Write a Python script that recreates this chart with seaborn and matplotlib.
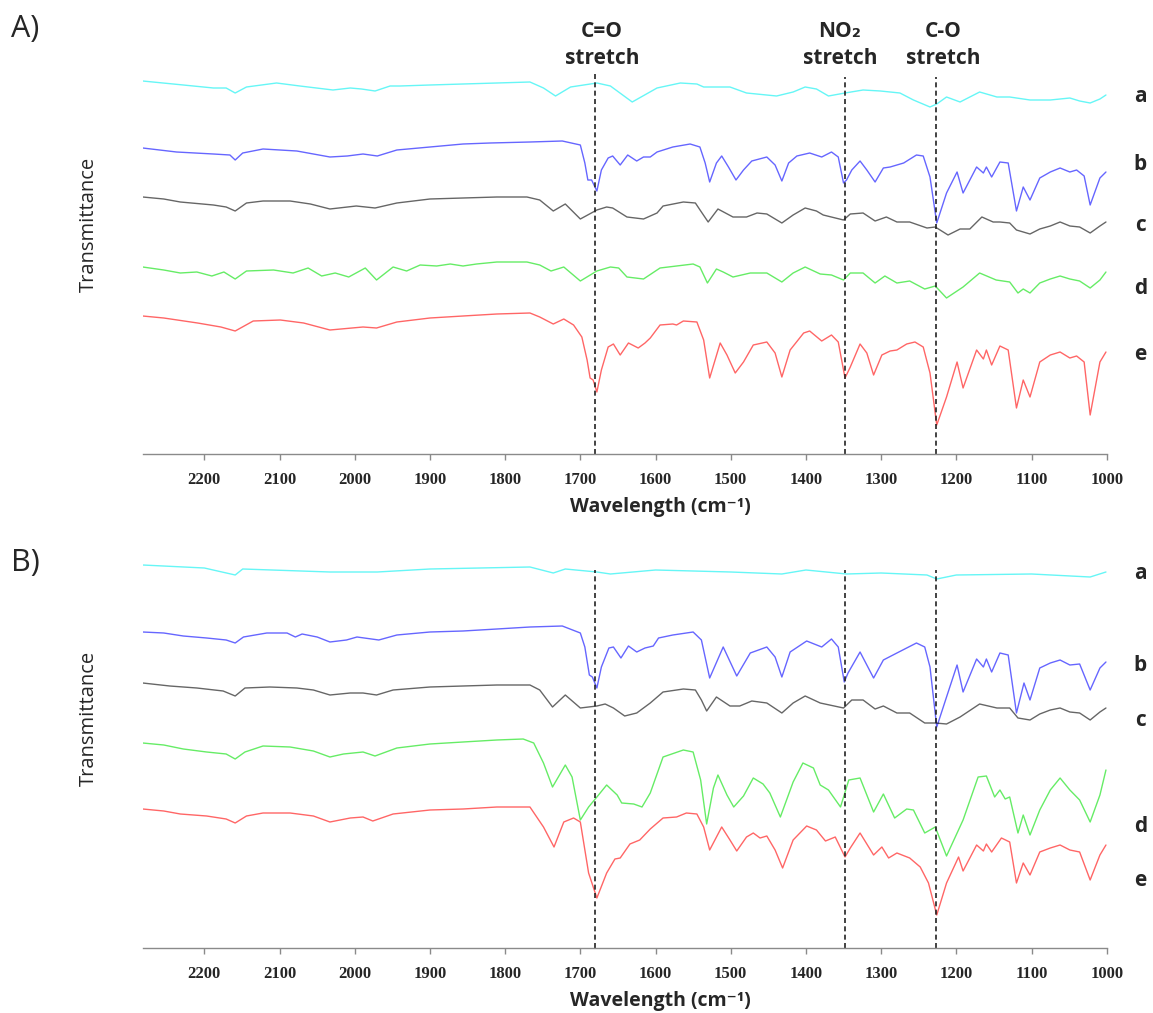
import numpy as np
import pandas as pd
import matplotlib
matplotlib.use("Agg")
import matplotlib.pyplot as plt
import seaborn as sns

# ---------------------------------------------------------------- data
# Wavenumbers (cm-1) and offset transmittance (arbitrary units) for each trace.

# Panel A
A_WN_a = [2282, 2228, 2188, 2171, 2159, 2144, 2104, 2073, 2029, 2006, 1991, 1973, 1953, 1940, 1900, 1856,
          1811, 1767, 1749, 1733, 1713, 1678, 1660, 1631, 1598, 1567, 1545, 1536, 1501, 1479, 1439, 1417,
          1401, 1386, 1370, 1348, 1324, 1301, 1275, 1257, 1235, 1226, 1213, 1195, 1169, 1146, 1129, 1102,
          1075, 1049, 1036, 1022, 1009, 1001]
A_T_a = [373, 369, 366, 366, 361, 367, 371, 368, 364, 366, 365, 363, 368, 368, 369, 370,
         371, 372, 366, 358, 367, 371, 368, 352, 366, 371, 370, 367, 367, 361, 358, 362,
         367, 365, 358, 361, 364, 363, 361, 354, 347, 350, 357, 352, 362, 357, 357, 354,
         354, 356, 353, 351, 355, 359]

A_WN_b = [2282, 2237, 2188, 2166, 2159, 2149, 2122, 2077, 2033, 2010, 1989, 1970, 1944, 1900, 1856, 1820,
          1767, 1724, 1700, 1694, 1690, 1685, 1678, 1672, 1663, 1657, 1647, 1637, 1625, 1616, 1607, 1598,
          1577, 1554, 1541, 1534, 1528, 1519, 1512, 1503, 1493, 1483, 1472, 1452, 1441, 1432, 1423, 1412,
          1395, 1379, 1366, 1357, 1350, 1346, 1339, 1328, 1319, 1308, 1297, 1288, 1270, 1253, 1244, 1235,
          1226, 1213, 1199, 1191, 1173, 1164, 1160, 1153, 1142, 1131, 1120, 1111, 1102, 1089, 1075, 1062,
          1049, 1040, 1030, 1022, 1009, 1001]
A_T_b = [306, 302, 300, 299, 294, 301, 305, 303, 297, 298, 300, 298, 304, 307, 310, 311,
         312, 313, 309, 291, 274, 274, 263, 284, 296, 298, 289, 299, 293, 297, 297, 302,
         307, 310, 307, 291, 272, 291, 298, 287, 274, 284, 293, 297, 289, 273, 291, 298,
         301, 297, 302, 297, 271, 274, 284, 293, 284, 272, 286, 287, 291, 299, 298, 277,
         231, 261, 282, 261, 287, 281, 287, 277, 292, 291, 243, 267, 254, 276, 282, 286,
         282, 284, 278, 249, 276, 282]

A_WN_c = [2282, 2254, 2232, 2188, 2171, 2159, 2144, 2122, 2086, 2059, 2033, 1998, 1973, 1944, 1900, 1856,
          1811, 1771, 1754, 1736, 1720, 1700, 1678, 1665, 1657, 1638, 1616, 1598, 1590, 1563, 1547, 1539,
          1530, 1517, 1497, 1479, 1465, 1452, 1432, 1417, 1401, 1386, 1377, 1350, 1341, 1324, 1308, 1293,
          1279, 1262, 1239, 1228, 1211, 1195, 1182, 1166, 1151, 1142, 1129, 1120, 1102, 1089, 1075, 1062,
          1049, 1036, 1022, 1009, 1001]
A_T_c = [257, 255, 252, 249, 247, 243, 251, 253, 253, 250, 245, 248, 246, 251, 255, 256,
         257, 257, 254, 243, 250, 235, 244, 247, 246, 237, 235, 241, 248, 252, 251, 242,
         232, 245, 237, 237, 241, 240, 231, 239, 246, 243, 239, 234, 240, 241, 233, 237,
         232, 232, 226, 227, 219, 225, 225, 237, 232, 232, 231, 224, 220, 225, 228, 232,
         228, 227, 221, 228, 232]

A_WN_d = [2282, 2254, 2232, 2210, 2190, 2174, 2159, 2144, 2108, 2082, 2062, 2044, 2026, 2008, 1986, 1971,
          1949, 1931, 1913, 1891, 1873, 1856, 1838, 1811, 1771, 1754, 1739, 1722, 1700, 1678, 1660, 1649,
          1638, 1616, 1594, 1550, 1541, 1531, 1519, 1510, 1497, 1474, 1452, 1432, 1417, 1401, 1381, 1366,
          1350, 1341, 1324, 1308, 1295, 1279, 1262, 1242, 1228, 1213, 1191, 1169, 1147, 1129, 1118, 1111,
          1102, 1089, 1075, 1062, 1049, 1036, 1022, 1009, 1001]
A_T_d = [187, 184, 181, 182, 178, 182, 175, 183, 184, 181, 186, 178, 181, 177, 186, 174,
         187, 183, 189, 188, 190, 188, 190, 192, 192, 189, 183, 187, 173, 183, 187, 186,
         177, 175, 186, 190, 187, 171, 185, 182, 177, 181, 181, 172, 181, 187, 180, 179,
         174, 181, 181, 171, 178, 171, 173, 165, 168, 156, 167, 181, 174, 172, 161, 165,
         161, 171, 175, 178, 175, 173, 166, 174, 182]

A_WN_e = [2282, 2254, 2209, 2178, 2159, 2135, 2099, 2068, 2033, 1989, 1971, 1944, 1900, 1856, 1811, 1767,
          1754, 1736, 1722, 1709, 1698, 1691, 1687, 1683, 1678, 1672, 1663, 1656, 1647, 1636, 1623, 1614,
          1607, 1594, 1577, 1572, 1563, 1545, 1536, 1528, 1514, 1505, 1494, 1483, 1470, 1452, 1441, 1432,
          1421, 1403, 1395, 1379, 1366, 1357, 1348, 1341, 1328, 1319, 1310, 1299, 1288, 1279, 1266, 1255,
          1244, 1235, 1226, 1213, 1199, 1191, 1173, 1164, 1160, 1153, 1142, 1131, 1120, 1111, 1102, 1089,
          1075, 1062, 1049, 1040, 1030, 1022, 1009, 1001]
A_T_e = [138, 136, 131, 127, 123, 133, 134, 131, 124, 127, 126, 132, 136, 138, 140, 141,
         137, 130, 135, 129, 117, 94, 76, 74, 62, 84, 107, 110, 99, 111, 106, 111,
         116, 129, 130, 129, 133, 132, 114, 76, 111, 99, 81, 92, 109, 112, 101, 77,
         104, 121, 123, 113, 119, 112, 76, 87, 110, 101, 79, 99, 103, 104, 110, 112,
         107, 81, 29, 57, 92, 66, 104, 95, 104, 89, 108, 104, 46, 74, 57, 92,
         99, 102, 96, 98, 92, 39, 92, 102]

# Panel B
B_WN_a = [2282, 2200, 2159, 2149, 2033, 1970, 1900, 1767, 1736, 1720, 1678, 1660, 1600, 1500, 1432, 1400,
          1346, 1300, 1239, 1226, 1200, 1100, 1022, 1001]
B_T_a = [383, 380, 373, 379, 376, 376, 379, 381, 375, 379, 376, 374, 378, 376, 374, 378,
         374, 375, 373, 369, 373, 374, 371, 376]

B_WN_b = [2282, 2254, 2228, 2197, 2171, 2159, 2148, 2117, 2090, 2079, 2070, 2050, 2033, 2011, 1997, 1968,
          1944, 1900, 1856, 1811, 1767, 1724, 1700, 1694, 1688, 1684, 1678, 1672, 1662, 1656, 1646, 1636,
          1625, 1614, 1603, 1596, 1577, 1550, 1539, 1528, 1510, 1492, 1474, 1452, 1441, 1432, 1421, 1399,
          1379, 1366, 1357, 1349, 1344, 1328, 1310, 1297, 1279, 1253, 1242, 1235, 1226, 1213, 1199, 1191,
          1173, 1164, 1160, 1153, 1142, 1131, 1120, 1110, 1102, 1089, 1075, 1062, 1049, 1036, 1022, 1009,
          1001]
B_T_b = [316, 315, 312, 310, 308, 305, 311, 315, 315, 311, 314, 311, 306, 308, 311, 308,
         313, 316, 317, 319, 321, 322, 315, 301, 273, 271, 260, 281, 300, 301, 290, 302,
         296, 300, 302, 310, 313, 316, 308, 270, 301, 272, 295, 301, 291, 271, 296, 307,
         301, 309, 301, 266, 275, 296, 270, 288, 295, 305, 301, 281, 221, 251, 283, 256,
         289, 281, 289, 276, 295, 293, 235, 265, 248, 280, 285, 288, 283, 284, 258, 280,
         286]

B_WN_c = [2282, 2246, 2210, 2175, 2159, 2146, 2113, 2077, 2055, 2033, 2006, 1989, 1971, 1949, 1900, 1856,
          1811, 1767, 1754, 1737, 1720, 1700, 1678, 1667, 1656, 1641, 1625, 1607, 1590, 1563, 1547, 1539,
          1532, 1519, 1501, 1488, 1472, 1452, 1432, 1417, 1401, 1381, 1350, 1339, 1324, 1308, 1297, 1279,
          1262, 1242, 1228, 1213, 1195, 1169, 1146, 1129, 1118, 1102, 1089, 1075, 1062, 1049, 1036, 1022,
          1009, 1001]
B_T_c = [265, 262, 260, 257, 252, 260, 261, 260, 258, 253, 255, 255, 253, 258, 261, 262,
         263, 263, 258, 241, 253, 240, 242, 244, 240, 232, 235, 245, 256, 259, 258, 248,
         237, 251, 242, 242, 247, 245, 235, 245, 252, 245, 240, 248, 248, 239, 242, 235,
         235, 225, 225, 224, 231, 244, 240, 240, 230, 228, 234, 238, 240, 236, 235, 228,
         236, 240]

B_WN_d = [2282, 2254, 2228, 2197, 2171, 2159, 2146, 2122, 2086, 2055, 2033, 2015, 1989, 1973, 1944, 1900,
          1856, 1811, 1776, 1762, 1749, 1737, 1720, 1711, 1700, 1689, 1678, 1665, 1651, 1645, 1629, 1618,
          1607, 1590, 1563, 1550, 1540, 1532, 1523, 1517, 1505, 1496, 1483, 1470, 1457, 1448, 1434, 1417,
          1404, 1390, 1381, 1370, 1354, 1343, 1328, 1310, 1297, 1282, 1266, 1257, 1242, 1228, 1213, 1191,
          1171, 1160, 1149, 1142, 1135, 1129, 1118, 1111, 1102, 1089, 1075, 1062, 1049, 1036, 1022, 1009,
          1001]
B_T_d = [205, 203, 199, 196, 194, 189, 196, 202, 201, 197, 191, 194, 196, 192, 200, 204,
         206, 208, 209, 205, 185, 161, 183, 171, 128, 141, 151, 163, 153, 145, 144, 141,
         155, 191, 198, 196, 168, 124, 160, 173, 153, 141, 152, 170, 164, 155, 131, 166,
         185, 180, 163, 158, 141, 168, 170, 136, 154, 130, 139, 138, 115, 121, 92, 128,
         171, 172, 151, 158, 149, 151, 115, 133, 113, 138, 158, 170, 158, 148, 126, 153,
         178]

B_WN_e = [2282, 2254, 2232, 2197, 2171, 2159, 2144, 2122, 2086, 2055, 2033, 2006, 1989, 1976, 1949, 1900,
          1856, 1811, 1767, 1749, 1735, 1722, 1709, 1700, 1689, 1678, 1665, 1654, 1647, 1634, 1621, 1607,
          1590, 1572, 1559, 1545, 1536, 1528, 1512, 1501, 1492, 1479, 1470, 1461, 1452, 1441, 1431, 1417,
          1399, 1386, 1374, 1361, 1348, 1341, 1328, 1310, 1299, 1290, 1279, 1262, 1248, 1237, 1226, 1213,
          1197, 1191, 1173, 1164, 1160, 1153, 1140, 1129, 1120, 1111, 1102, 1089, 1075, 1062, 1049, 1036,
          1022, 1009, 1001]
B_T_e = [139, 137, 134, 132, 129, 125, 132, 135, 135, 132, 126, 130, 131, 127, 134, 138,
         139, 141, 141, 121, 101, 126, 130, 126, 75, 50, 75, 89, 90, 104, 108, 119,
         130, 131, 135, 134, 121, 98, 121, 108, 97, 111, 115, 110, 112, 98, 80, 108,
         122, 118, 107, 111, 91, 100, 115, 93, 101, 90, 95, 90, 81, 65, 33, 65,
         91, 77, 103, 97, 104, 96, 110, 106, 65, 85, 73, 96, 100, 103, 98, 96,
         68, 93, 103]

SAMPLES = ["a", "b", "c", "d", "e"]
COLORS = {"a": "#00F0F0", "b": "#0000FF", "c": "#000000", "d": "#00E000", "e": "#FF0000"}

# Band assignments marked by dashed lines (cm-1)
BAND_WN = [1680, 1348, 1227]
BAND_NAMES = ["C=O", "NO\u2082", "C-O"]
BAND_TOP_A = [382, 377, 377]
BAND_TOP_B = [378, 378, 378]

# Sample label heights (same units as the traces)
LABEL_Y_A = [357, 289, 228, 165, 100]
LABEL_Y_B = [375, 283, 228, 122, 68]

TICKS = list(range(2200, 999, -100))
XMAX, XMIN = 2282, 1000

panels = {
    "A": {"a": (A_WN_a, A_T_a), "b": (A_WN_b, A_T_b), "c": (A_WN_c, A_T_c),
          "d": (A_WN_d, A_T_d), "e": (A_WN_e, A_T_e)},
    "B": {"a": (B_WN_a, B_T_a), "b": (B_WN_b, B_T_b), "c": (B_WN_c, B_T_c),
          "d": (B_WN_d, B_T_d), "e": (B_WN_e, B_T_e)},
}


def long_frame(traces):
    rows = []
    for s in SAMPLES:
        wn, t = traces[s]
        rows.append(pd.DataFrame({"wavenumber": wn, "T": t, "sample": s}))
    return pd.concat(rows, ignore_index=True)


# ---------------------------------------------------------------- figure
sns.set_theme(style="white")
plt.rcParams["font.family"] = ["Open Sans", "DejaVu Sans"]

W, H = 1153, 1013
fig = plt.figure(figsize=(W / 100, H / 100), dpi=100)

ax_left = 142.7 / W
ax_w = (1106.7 - 142.7) / W
ax_h = 400 / H
axes = {
    "A": fig.add_axes([ax_left, 1 - 454 / H, ax_w, ax_h]),
    "B": fig.add_axes([ax_left, 1 - 948 / H, ax_w, ax_h]),
}

tick_font = {"family": ["Liberation Serif"], "weight": "bold", "size": 12}

for key, ax in axes.items():
    df = long_frame(panels[key])
    sns.lineplot(data=df, x="wavenumber", y="T", hue="sample", palette=COLORS,
                 estimator=None, sort=False, legend=False, ax=ax, lw=1.0, alpha=0.6)

    tops = BAND_TOP_A if key == "A" else BAND_TOP_B
    ax.vlines(BAND_WN, 0, tops, colors="#222222", linestyles=(0, (3, 2)), lw=1.2)

    ax.set_xlim(XMAX, XMIN)
    ax.set_ylim(0, 400)
    ax.set_yticks([])
    ax.set_ylabel("")
    ax.set_xticks(TICKS)
    ax.set_xticklabels([str(t) for t in TICKS], fontdict=tick_font)
    ax.tick_params(axis="x", direction="out", length=4, width=1, color="#8a8a8a",
                   pad=9, bottom=True)
    for side in ["top", "right", "left"]:
        ax.spines[side].set_visible(False)
    ax.spines["bottom"].set_color("#8a8a8a")
    ax.spines["bottom"].set_linewidth(1.0)

    ax.set_xlabel("Wavelength (cm\u207b\u00b9)", fontsize=14, fontweight="bold",
                  family=["Open Sans", "DejaVu Sans"], va="center")
    ax.xaxis.set_label_coords((660 - 142.7) / (1106.7 - 142.7), -0.133)

    label_y = LABEL_Y_A if key == "A" else LABEL_Y_B
    for s, y in zip(SAMPLES, label_y):
        ax.text(1.035, y, s, transform=ax.get_yaxis_transform(), ha="center", va="center",
                fontsize=15, fontweight="bold", clip_on=False)

    ax.text(-0.056, 0.575, "Transmittance", transform=ax.transAxes, rotation=90,
            ha="center", va="center", fontsize=14.5)

# Band annotations above panel A
axA = axes["A"]
name_x = [1671, 1355, 1218]
for wn, name in zip(name_x, BAND_NAMES):
    axA.text(wn, 422, name, ha="center", va="center", fontsize=15, fontweight="bold",
             family=["Open Sans", "DejaVu Sans"], clip_on=False)
    axA.text(wn, 395, "stretch", ha="center", va="center", fontsize=15, fontweight="bold",
             clip_on=False)

fig.text(11 / W, 1 - 29 / H, "A)", ha="left", va="center", fontsize=22)
fig.text(11 / W, 1 - 563 / H, "B)", ha="left", va="center", fontsize=22)

fig.savefig("out.png", dpi=100)
